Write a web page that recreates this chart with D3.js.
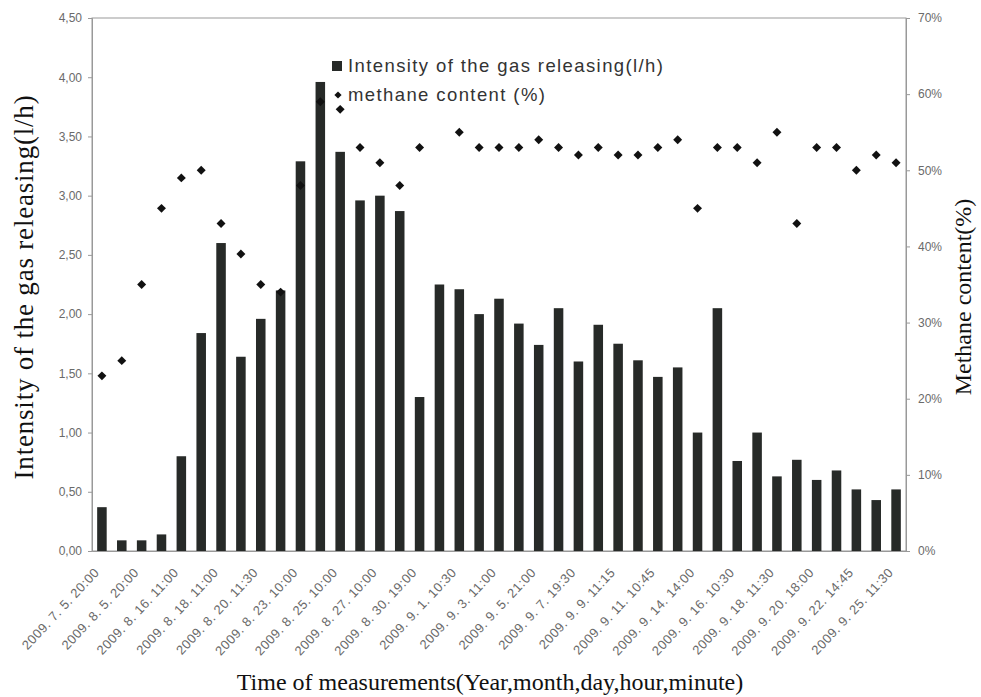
<!DOCTYPE html>
<html lang="en">
<head>
	<meta charset="UTF-8">
	<title>Gas releasing and methane content</title>
	<script type="text/javascript" src="https://d3js.org/d3.v7.min.js"></script>
	<style>
		body { margin: 0; background: #fff; }
		.tick text { font-family: "Liberation Sans", Arial, sans-serif; fill: #6a6a6a; }
	</style>
</head>
<body>
	<svg></svg>

	<script type="text/javascript">
		var width = 981;
		var height = 697;
		var margin = {top: 18, right: 75, bottom: 146, left: 92};

		// labels appear under every other bar
		var tickLabels = ["2009. 7. 5. 20:00", "2009. 8. 5. 20:00", "2009. 8. 16. 11:00", "2009. 8. 18. 11:00",
			"2009. 8. 20. 11:30", "2009. 8. 23. 10:00", "2009. 8. 25. 10:00", "2009. 8. 27. 10:00",
			"2009. 8. 30. 19:00", "2009. 9. 1. 10:30", "2009. 9. 3. 11:00", "2009. 9. 5. 21:00",
			"2009. 9. 7. 19:30", "2009. 9. 9. 11:15", "2009. 9. 11. 10:45", "2009. 9. 14. 14:00",
			"2009. 9. 16. 10:30", "2009. 9. 18. 11:30", "2009. 9. 20. 18:00", "2009. 9. 22. 14:45",
			"2009. 9. 25. 11:30"];

		// intensity of the gas releasing (l/h), one per measurement
		var intensity = [0.37, 0.09, 0.09, 0.14, 0.80, 1.84, 2.60, 1.64, 1.96, 2.20,
			3.29, 3.96, 3.37, 2.96, 3.00, 2.87, 1.30, 2.25, 2.21, 2.00,
			2.13, 1.92, 1.74, 2.05, 1.60, 1.91, 1.75, 1.61, 1.47, 1.55,
			1.00, 2.05, 0.76, 1.00, 0.63, 0.77, 0.60, 0.68, 0.52, 0.43,
			0.52];

		// methane content (fraction), null where no point is shown
		var methane = [0.23, 0.25, 0.35, 0.45, 0.49, 0.50, 0.43, 0.39, 0.35, 0.34,
			0.48, 0.59, 0.58, 0.53, 0.51, 0.48, 0.53, null, 0.55, 0.53,
			0.53, 0.53, 0.54, 0.53, 0.52, 0.53, 0.52, 0.52, 0.53, 0.54,
			0.45, 0.53, 0.53, 0.51, 0.55, 0.43, 0.53, 0.53, 0.50, 0.52,
			0.51];

		var leftTicks = [0, 0.5, 1, 1.5, 2, 2.5, 3, 3.5, 4, 4.5];
		var rightTicks = [0, 0.1, 0.2, 0.3, 0.4, 0.5, 0.6, 0.7];

		var svg = d3.select("svg")
			.attr("width", width)
			.attr("height", height);

		var idx = d3.range(intensity.length);
		var scaleX = d3.scaleBand().domain(idx).range([margin.left, width - margin.right])
			.paddingInner(0.52).paddingOuter(0.26);
		var scaleY = d3.scaleLinear().domain([0, 4.5]).range([height - margin.bottom, margin.top]);
		var scaleY2 = d3.scaleLinear().domain([0, 0.7]).range([height - margin.bottom, margin.top]);

		// frame
		svg.append("rect")
			.attr("x", margin.left)
			.attr("y", margin.top)
			.attr("width", width - margin.left - margin.right)
			.attr("height", height - margin.top - margin.bottom)
			.attr("fill", "none")
			.attr("stroke", "#999");

		// bars
		svg.selectAll("rect.bar").data(idx).enter().append("rect")
			.attr("class", "bar")
			.attr("x", function(i) {return scaleX(i)})
			.attr("width", scaleX.bandwidth())
			.attr("y", function(i) {return scaleY(intensity[i])})
			.attr("height", function(i) {return scaleY(0) - scaleY(intensity[i])})
			.attr("fill", "#272a28");

		// methane points
		var diamond = d3.symbol().type(d3.symbolSquare).size(40);
		svg.selectAll("path.pt").data(idx.filter(function(i) {return methane[i] != null})).enter().append("path")
			.attr("class", "pt")
			.attr("d", diamond)
			.attr("transform", function(i) {
				return "translate(" + (scaleX(i) + scaleX.bandwidth() / 2) + "," + scaleY2(methane[i]) + ") rotate(45)";
			})
			.attr("fill", "#111");

		// axes
		var commaFmt = function(d) {return d3.format(".2f")(d).replace(".", ",")};
		var axisY = d3.axisLeft(scaleY).tickValues(leftTicks).tickFormat(commaFmt).tickSize(4).tickPadding(6);
		var axisY2 = d3.axisRight(scaleY2).tickValues(rightTicks).tickFormat(d3.format(".0%")).tickSize(4).tickPadding(8);
		var axisX = d3.axisBottom(scaleX)
			.tickValues(idx.filter(function(i) {return i % 2 == 0}))
			.tickFormat(function(i) {return tickLabels[i / 2]})
			.tickSize(0);

		var gy = svg.append("g")
			.attr("transform", "translate(" + margin.left + ",0)")
			.call(axisY);
		var gy2 = svg.append("g")
			.attr("transform", "translate(" + (width - margin.right) + ",0)")
			.call(axisY2);
		var gx = svg.append("g")
			.attr("transform", "translate(0," + (height - margin.bottom) + ")")
			.call(axisX);

		[gy, gy2, gx].forEach(function(g) {
			g.select(".domain").attr("stroke", "#999");
			g.selectAll(".tick line").attr("stroke", "#999");
			g.selectAll(".tick text").attr("font-size", 12);
		});

		gx.selectAll(".tick text")
			.attr("font-size", 13)
			.attr("text-anchor", "end")
			.attr("dy", 0)
			.attr("letter-spacing", 0.5)
			.attr("transform", "translate(-2,22) rotate(-47)")
			.attr("y", 0)
			.attr("x", 0);

		// axis titles
		var serif = "'Liberation Serif', 'Times New Roman', serif";
		svg.append("text")
			.attr("transform", "translate(33,287) rotate(-90)")
			.attr("text-anchor", "middle")
			.attr("font-family", serif)
			.attr("font-size", 27)
			.attr("letter-spacing", 0.8)
			.attr("fill", "#111")
			.text("Intensity of the gas releasing(l/h)");

		svg.append("text")
			.attr("transform", "translate(971,297) rotate(-90)")
			.attr("text-anchor", "middle")
			.attr("font-family", serif)
			.attr("font-size", 24)
			.attr("fill", "#111")
			.text("Methane content(%)");

		svg.append("text")
			.attr("x", 490)
			.attr("y", 690)
			.attr("text-anchor", "middle")
			.attr("font-family", serif)
			.attr("font-size", 24)
			.attr("fill", "#111")
			.text("Time of measurements(Year,month,day,hour,minute)");

		// legend
		var legend = svg.append("g").attr("transform", "translate(332,0)");
		legend.append("rect")
			.attr("x", 0).attr("y", 61).attr("width", 10).attr("height", 10)
			.attr("fill", "#272a28");
		legend.append("path")
			.attr("d", d3.symbol().type(d3.symbolSquare).size(26))
			.attr("transform", "translate(6,95) rotate(45)")
			.attr("fill", "#111");
		legend.selectAll("text.leg").data(["Intensity of the gas releasing(l/h)", "methane content (%)"])
			.enter().append("text")
			.attr("class", "leg")
			.attr("x", 16)
			.attr("y", function(d, i) {return 72 + i * 29})
			.attr("font-family", "'Liberation Sans', Arial, sans-serif")
			.attr("font-size", 18.5)
			.attr("letter-spacing", 1.4)
			.attr("fill", "#333")
			.text(function(d) {return d});
	</script>
</body>
</html>
